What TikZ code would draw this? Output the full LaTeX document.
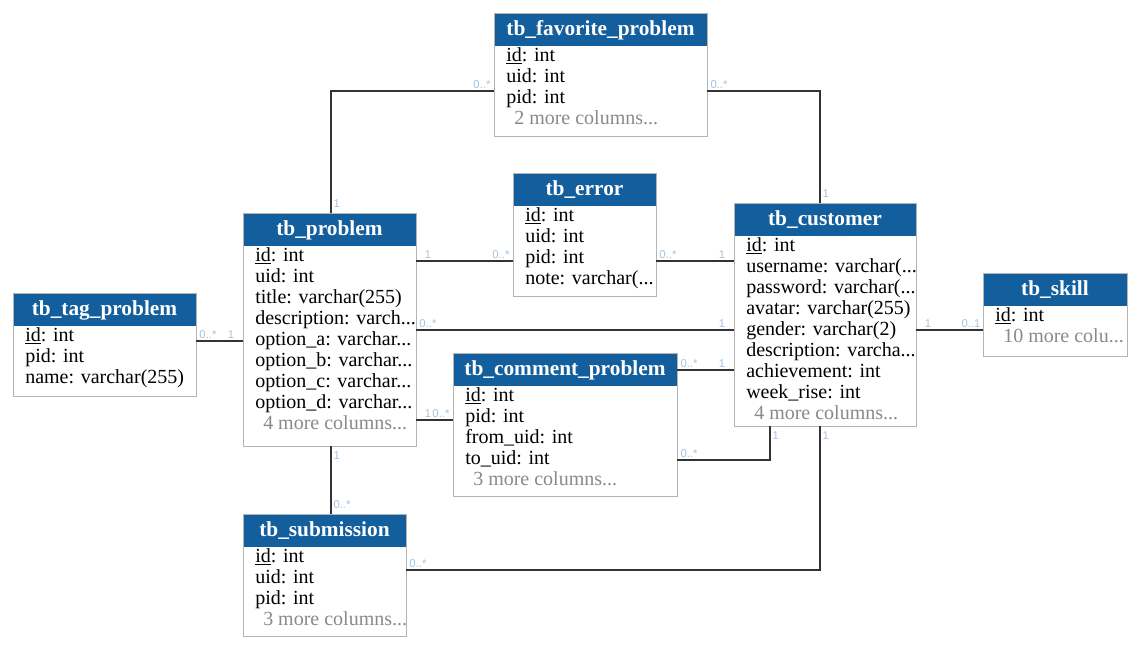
\documentclass[tikz,border=0pt]{standalone}
\usepackage{fontspec}
\setmainfont{Liberation Serif}
\setsansfont{Liberation Sans}
\usetikzlibrary{calc}

\definecolor{headblue}{HTML}{135E9C}
\definecolor{boxgray}{HTML}{B4B4B4}
\definecolor{moregray}{HTML}{8A8A8A}
\definecolor{moltblue}{HTML}{A6C3E3}
\definecolor{linegray}{HTML}{333333}

\tikzset{
  tabbox/.style={draw=boxgray, line width=0.75pt, inner sep=0pt, outer sep=0pt},
  titolo/.style={text=white, font=\fontsize{16}{18}\selectfont\bfseries, inner sep=0pt},
  riga/.style={font=\fontsize{15}{17}\selectfont, inner sep=0pt, anchor=base west},
  rel/.style={draw=linegray, line width=0.8pt},
  molt/.style={text=moltblue, font=\sffamily\fontsize{8.5}{10}\selectfont, inner sep=1.5pt},
  % etichette sulle linee orizzontali (inizio / fine)
  hini/.style={molt, pos=0, anchor=south, xshift=9pt},
  hfin/.style={molt, pos=1, anchor=south, xshift=-9pt},
  % etichette sulle linee verticali
  vsopra/.style={molt, anchor=west, yshift=7pt},
  vsotto/.style={molt, anchor=west, yshift=-7pt},
}

\newcommand{\puntini}{...}
\newcommand{\altre}[1]{\hspace*{6pt}\textcolor{moregray}{#1\puntini}}
% nome, x, y, larghezza, altezza, titolo, campi
\newcommand{\tabella}[7]{%
  \fill[headblue] (#2,#3) rectangle ++(#4,32.5);
  \node[tabbox, anchor=north west, minimum width=#4*0.75pt, minimum height=#5*0.75pt] (#1) at (#2,#3) {};
  \node[titolo, anchor=base] (#1-t) at ($(#2,#3)+(#4/2,22)$) {#6};
  \foreach \campo [count=\i] in {#7}
    \node[riga] (#1-\i) at ($(#2,#3)+(12,27.5+21*\i)$) {\campo};
}

\begin{document}
\begin{tikzpicture}[x=0.75pt, y=-0.75pt]
        \useasboundingbox (0,0) rectangle (1140,650);
        \fill[white] (0,0) rectangle (1140,650);

        %tabelle
        \tabella{tag}{13}{293}{183}{103}{tb\_tag\_problem}
          {\underline{id}: int, pid: int, name: varchar(255)}
        \tabella{problem}{243}{213}{173}{233}{tb\_problem}
          {\underline{id}: int, uid: int, title: varchar(255), description: varch\puntini,
           option\_a: varchar\puntini, option\_b: varchar\puntini, option\_c: varchar\puntini,
           option\_d: varchar\puntini, \altre{4 more columns}}
        \tabella{submission}{243}{514}{163}{122}{tb\_submission}
          {\underline{id}: int, uid: int, pid: int, \altre{3 more columns}}
        \tabella{favorite}{494}{13}{213}{123}{tb\_favorite\_problem}
          {\underline{id}: int, uid: int, pid: int, \altre{2 more columns}}
        \tabella{error}{513}{173}{143}{123}{tb\_error}
          {\underline{id}: int, uid: int, pid: int, note: varchar(\puntini}
        \tabella{comment}{453}{353}{224}{143}{tb\_comment\_problem}
          {\underline{id}: int, pid: int, from\_uid: int, to\_uid: int, \altre{3 more columns}}
        \tabella{customer}{734}{203}{182}{223}{tb\_customer}
          {\underline{id}: int, username: varchar(\puntini, password: varchar(\puntini,
           avatar: varchar(255), gender: varchar(2), description: varcha\puntini,
           achievement: int, week\_rise: int, \altre{4 more columns}}
        \tabella{skill}{983}{273}{144}{83}{tb\_skill}
          {\underline{id}: int, \altre{10 more colu}}

        %collegamenti orizzontali
        \draw[rel] (tag.east |- 0,341) -- node[hini]{0..*} node[hfin]{1} (problem.west |- 0,341);
        \draw[rel] (problem.east |- 0,261) -- node[hini]{1} node[hfin]{0..*} (error.west |- 0,261);
        \draw[rel] (error.east |- 0,261) -- node[hini]{0..*} node[hfin]{1} (customer.west |- 0,261);
        \draw[rel] (problem.east |- 0,330) -- node[hini]{0..*} node[hfin]{1} (customer.west |- 0,330);
        \draw[rel] (comment.east |- 0,370) -- node[hini]{0..*} node[hfin]{1} (customer.west |- 0,370);
        \draw[rel] (problem.east |- 0,420) -- node[hini]{1} node[hfin]{0..*} (comment.west |- 0,420);
        \draw[rel] (customer.east |- 0,330) -- node[hini]{1} node[hfin]{0..1} (skill.west |- 0,330);

        %collegamenti con gomito
        \draw[rel] (problem.north -| 331,0) |- node[vsopra,pos=0]{1} node[hfin]{0..*} (favorite.west |- 0,91);
        \draw[rel] (favorite.east |- 0,91) -| node[hini]{0..*} node[vsopra,pos=1]{1} (customer.north -| 820,0);
        \draw[rel] (comment.east |- 0,460) -| node[hini]{0..*} node[vsotto,pos=1]{1} (customer.south -| 770,0);
        \draw[rel] (submission.east |- 0,570) -| node[hini]{0..*} node[vsotto,pos=1]{1} (customer.south -| 820,0);
        \draw[rel] (problem.south -| 331,0) -- node[vsotto,pos=0]{1} node[vsopra,pos=1]{0..*} (submission.north -| 331,0);

    \end{tikzpicture}
\end{document}
